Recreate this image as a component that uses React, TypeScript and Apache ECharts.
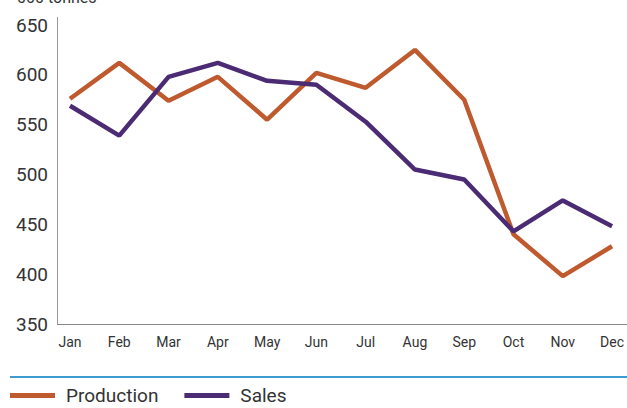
import React, { useEffect, useRef } from "react";
import * as echarts from "echarts";

const months = ["Jan", "Feb", "Mar", "Apr", "May", "Jun", "Jul", "Aug", "Sep", "Oct", "Nov", "Dec"];
const production = [576, 612, 574, 598, 555, 602, 587, 625, 575, 440, 398, 428];
const sales = [569, 539, 598, 612, 594, 590, 553, 505, 495, 443, 474, 448];
const yMin = 350;
const yMax = 650;
const yStep = 50;
const unitLabel = "000 tonnes";

const ORANGE = "#BF5A2E";
const PURPLE = "#4B2B73";
const FONT = "Roboto, 'Liberation Sans', sans-serif";

export default function App() {
  const ref = useRef<HTMLDivElement>(null);
  useEffect(() => {
    document.body.style.margin = "0";
    if (!ref.current) return;
    const chart = echarts.init(ref.current, null, { renderer: "svg" });
    chart.setOption({
      animation: false,
      textStyle: { fontFamily: FONT },
      grid: { left: 70, right: 11, top: 25, bottom: 84 },
      xAxis: {
        type: "category",
        data: months,
        boundaryGap: false,
        axisLine: { show: false },
        axisTick: { show: false },
        axisLabel: { color: "#333", fontSize: 14, margin: 11, fontFamily: FONT },
      },
      yAxis: {
        type: "value",
        min: yMin,
        max: yMax,
        interval: yStep,
        axisLine: { show: false },
        axisTick: { show: false },
        splitLine: { show: false },
        axisLabel: { color: "#333", fontSize: 19, margin: 22, fontFamily: FONT },
      },
      legend: {
        left: 10,
        top: 386,
        padding: 0,
        itemWidth: 45,
        itemHeight: 5,
        itemGap: 26,
        textStyle: { color: "#333", fontSize: 19, fontFamily: FONT, padding: [0, 0, 0, 6] },
        data: [
          { name: "Production", icon: "rect" },
          { name: "Sales", icon: "rect" },
        ],
      },
      graphic: [
        {
          type: "line",
          shape: { x1: 57.5, y1: 17, x2: 57.5, y2: 324 },
          style: { stroke: "#999", lineWidth: 1 },
        },
        {
          type: "line",
          shape: { x1: 57, y1: 324.5, x2: 627, y2: 324.5 },
          style: { stroke: "#888", lineWidth: 1 },
        },
        {
          type: "line",
          shape: { x1: 10, y1: 377, x2: 627, y2: 377 },
          style: { stroke: "#3D9BD0", lineWidth: 2 },
        },
        {
          type: "text",
          left: 17,
          top: -11,
          style: { text: unitLabel, fontSize: 16, fill: "#333", fontFamily: FONT },
        },
      ],
      series: [
        {
          name: "Production",
          type: "line",
          data: production,
          showSymbol: false,
          symbol: "none",
          lineStyle: { color: ORANGE, width: 4.5 },
          itemStyle: { color: ORANGE },
        },
        {
          name: "Sales",
          type: "line",
          data: sales,
          showSymbol: false,
          symbol: "none",
          lineStyle: { color: PURPLE, width: 4.5 },
          itemStyle: { color: PURPLE },
        },
      ],
    });
    return () => chart.dispose();
  }, []);
  return <div ref={ref} style={{ width: 627, height: 408 }} />;
}
